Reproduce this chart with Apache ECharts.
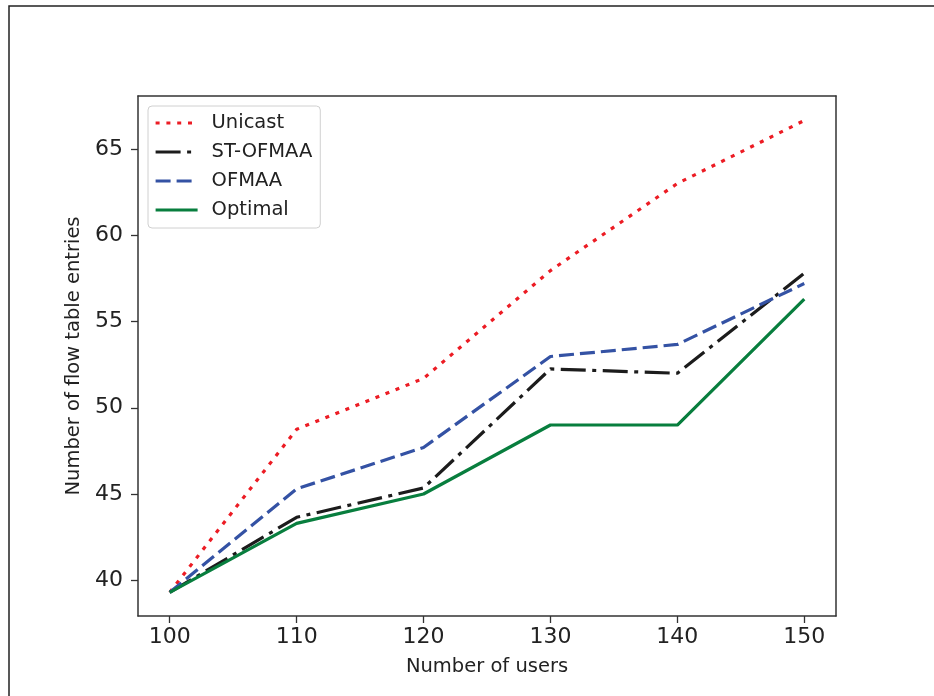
<!DOCTYPE html>
<html>
<head>
<meta charset="utf-8">
<script src="https://cdn.jsdelivr.net/npm/echarts@6/dist/echarts.min.js"></script>
<style>
  html, body { margin: 0; padding: 0; background: #fff; }
  #chart { width: 934px; height: 696px; }
</style>
</head>
<body>
<div id="chart"></div>
<script>
// 数据
const users = [100, 110, 120, 130, 140, 150]
const unicast = [39.3, 48.75, 51.7, 57.95, 63.0, 66.65]
const stOfmaa = [39.3, 43.65, 45.35, 52.25, 52.0, 57.8]
const ofmaa = [39.3, 45.3, 47.7, 52.97, 53.67, 57.2]
const optimal = [39.3, 43.3, 45.0, 49.0, 49.0, 56.3]
const xTicks = [100, 110, 120, 130, 140, 150]
const yTicks = [40, 45, 50, 55, 60, 65]

const font = 'DejaVu Sans'
const axisColor = '#333'

function pairs(ys){
  return users.map((x, i) => [x, ys[i]])
}

function lineSeries(name, ys, color, dash){
  return {
    name: name,
    type: 'line',
    data: pairs(ys),
    symbol: 'none',
    animation: false,
    lineStyle: { color: color, width: 3.2, type: dash, cap: 'butt' },
    itemStyle: { color: color }
  }
}

// 主坐标轴 + 上/右边框轴
let xMain = {
  type: 'value', min: 97.5, max: 152.5,
  splitLine: { show: false },
  axisLine: { show: true, onZero: false, lineStyle: { color: axisColor, width: 1.5 } },
  axisTick: { show: true, length: 7, customValues: xTicks, lineStyle: { color: axisColor, width: 1.3 } },
  axisLabel: { customValues: xTicks, fontFamily: font, fontSize: 22, color: '#222', margin: 10 },
  name: 'Number of users', nameLocation: 'middle', nameGap: 41,
  nameTextStyle: { fontFamily: font, fontSize: 19.5, color: '#222' }
}
let yMain = {
  type: 'value', min: 37.93, max: 68.07,
  splitLine: { show: false },
  axisLine: { show: true, onZero: false, lineStyle: { color: axisColor, width: 1.5 } },
  axisTick: { show: true, length: 7, customValues: yTicks, lineStyle: { color: axisColor, width: 1.3 } },
  axisLabel: { customValues: yTicks, fontFamily: font, fontSize: 22, color: '#222', margin: 15 },
  name: 'Number of flow table entries', nameLocation: 'middle', nameGap: 54,
  nameTextStyle: { fontFamily: font, fontSize: 19.5, color: '#222' }
}
let frameAxis = (pos, min, max) => ({
  type: 'value', position: pos, min: min, max: max,
  splitLine: { show: false }, axisTick: { show: false }, axisLabel: { show: false },
  axisLine: { show: true, onZero: false, lineStyle: { color: axisColor, width: 1.5 } }
})

let option = {
  backgroundColor: '#fff',
  animation: false,
  grid: { left: 138, right: 98, top: 96, bottom: 80 },
  xAxis: [xMain, frameAxis('top', 97.5, 152.5)],
  yAxis: [yMain, frameAxis('right', 37.93, 68.07)],
  legend: {
    orient: 'vertical',
    left: 148, top: 106,
    padding: [7, 8, 8, 6],
    itemWidth: 42, itemHeight: 14, itemGap: 9,
    backgroundColor: '#fff',
    borderColor: '#d0d0d0', borderWidth: 1, borderRadius: 4,
    itemStyle: { opacity: 0, borderWidth: 0 },
    lineStyle: { width: 3.2 },
    textStyle: { fontFamily: font, fontSize: 19.5, color: '#222', padding: [0, 0, 0, 9] },
    data: ['Unicast', 'ST-OFMAA', 'OFMAA', 'Optimal']
  },
  graphic: [{
    type: 'rect', silent: true, z: 100,
    shape: { x: 9, y: 6, width: 1000, height: 1000 },
    style: { fill: 'none', stroke: '#222', lineWidth: 1.5 }
  }],
  series: [
    lineSeries('Unicast', unicast, '#ec1c24', [4, 6.8]),
    lineSeries('ST-OFMAA', stOfmaa, '#1c1c1c', [25, 6.5, 4, 6.5]),
    lineSeries('OFMAA', ofmaa, '#3452a4', [15, 6]),
    lineSeries('Optimal', optimal, '#087e3e', 'solid')
  ]
}

let myChart = echarts.init(document.getElementById('chart'))
myChart.setOption(option)
</script>
</body>
</html>
